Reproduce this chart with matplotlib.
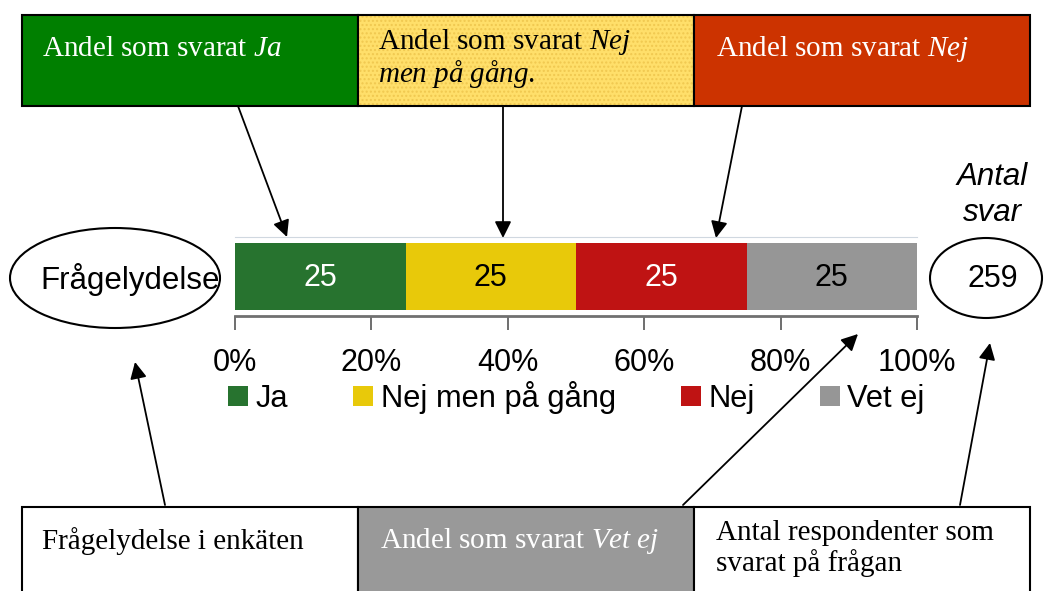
import matplotlib
matplotlib.use("Agg")
import matplotlib.pyplot as plt
from matplotlib.patches import Rectangle, Ellipse
import numpy as np

plt.rcParams['font.family'] = ['Liberation Sans', 'DejaVu Sans']
plt.rcParams['mathtext.fontset'] = 'custom'
plt.rcParams['mathtext.rm'] = 'Liberation Serif'
plt.rcParams['mathtext.it'] = 'Liberation Serif:italic'

# data
categories = ["Ja", "Nej men på gång", "Nej", "Vet ej"]
values = [25, 25, 25, 25]
bar_colors = ["#27732f", "#e8c90a", "#bf1313", "#969696"]
label_colors = ["white", "black", "white", "black"]
n_answers = 259
question = "Frågelydelse"
ticks = [0, 20, 40, 60, 80, 100]

W, H = 1060, 591
fig = plt.figure(figsize=(W / 100, H / 100), dpi=100)

# background axes in pixel coords for the explanation boxes
bg = fig.add_axes([0, 0, 1, 1])
bg.set_xlim(0, W)
bg.set_ylim(H, 0)
bg.axis("off")

serif = dict(family="Liberation Serif", fontsize=21)

# top boxes
bg.add_patch(Rectangle((22, 15), 336, 91, facecolor="#007f00", edgecolor="black", lw=1.5))
bg.add_patch(Rectangle((358, 15), 336, 91, facecolor="#ffdf6a", edgecolor="none"))
bg.add_patch(Rectangle((358, 15), 336, 91, facecolor="none", edgecolor="#f0c850", hatch="....", lw=0))
bg.add_patch(Rectangle((358, 15), 336, 91, facecolor="none", edgecolor="black", lw=1.5))
bg.add_patch(Rectangle((694, 15), 336, 91, facecolor="#cc3300", edgecolor="black", lw=1.5))

bg.text(42, 49, r"Andel som svarat $\mathit{Ja}$", color="white", va="center", **serif)
bg.text(378, 42, r"Andel som svarat $\mathit{Nej}$", color="black", va="center", **serif)
bg.text(378, 74, r"$\mathit{men\ på\ gång}$.", color="black", va="center", **serif)
bg.text(716, 49, r"Andel som svarat $\mathit{Nej}$", color="white", va="center", **serif)

# bottom boxes
bg.add_patch(Rectangle((22, 507), 336, 100, facecolor="white", edgecolor="black", lw=1.5))
bg.add_patch(Rectangle((358, 507), 336, 100, facecolor="#999999", edgecolor="black", lw=1.5))
bg.add_patch(Rectangle((694, 507), 336, 100, facecolor="white", edgecolor="black", lw=1.5))
bg.text(42, 541, "Frågelydelse i enkäten", color="black", va="center", **serif)
bg.text(380, 541, r"Andel som svarat $\mathit{Vet\ ej}$", color="white", va="center", **serif)
bg.text(716, 533, "Antal respondenter som", color="black", va="center", **serif)
bg.text(716, 563, "svarat på frågan", color="black", va="center", **serif)

# ellipses
bg.add_patch(Ellipse((115, 278), 210, 100, facecolor="white", edgecolor="black", lw=1.5))
bg.add_patch(Ellipse((986, 278), 112, 80, facecolor="white", edgecolor="black", lw=1.5))
bg.text(130, 279, question, fontsize=22.5, ha="center", va="center")
bg.text(993, 279, str(n_answers), fontsize=22, ha="center", va="center")
bg.text(992, 177, "Antal", fontsize=22.5, style="italic", ha="center", va="center")
bg.text(992, 213, "svar", fontsize=22.5, style="italic", ha="center", va="center")

# arrows
arrows = [((238, 106), (287, 237)), ((503, 106), (503, 238)), ((742, 106), (716, 238)),
          ((165, 505), (135, 362)), ((683, 505), (858, 334)), ((960, 505), (990, 343))]
for (x0, y0), (x1, y1) in arrows:
    bg.annotate("", xy=(x1, y1), xytext=(x0, y0),
                arrowprops=dict(arrowstyle="-|>", mutation_scale=25, lw=1.3,
                                color="black", shrinkA=0, shrinkB=0))

# the bar chart
left, right = 235, 917
top, bottom = 237, 316
ax = fig.add_axes([left / W, 1 - bottom / H, (right - left) / W, (bottom - top) / H])
ax.set_facecolor("none")
starts = np.concatenate([[0], np.cumsum(values)[:-1]])
for cat, v, s, c, tc in zip(categories, values, starts, bar_colors, label_colors):
    ax.barh(0, v, left=s, height=0.84, color=c, label=cat)
    ax.text(s + v / 2, -0.02, str(v), color=tc, fontsize=22, ha="center", va="center")
ax.set_xlim(0, 100)
ax.set_ylim(-0.5, 0.5)
ax.set_yticks([])
ax.set_xticks(ticks)
ax.set_xticklabels([f"{t}%" for t in ticks], fontsize=22)
ax.tick_params(axis="x", direction="out", length=10, width=1.2, color="#555555", pad=13)
for side in ["left", "right"]:
    ax.spines[side].set_visible(False)
ax.spines["top"].set_color("#d0d8e0")
ax.spines["bottom"].set_color("#707070")
ax.spines["bottom"].set_linewidth(2)

ax.legend(loc="center left", bbox_to_anchor=(-0.010, -1.03), ncol=4, frameon=False,
          fontsize=22.2, handlelength=0.65, handleheight=0.65, handletextpad=0.25,
          columnspacing=2.1, borderaxespad=0, borderpad=0)

fig.savefig("out.png", dpi=100)
